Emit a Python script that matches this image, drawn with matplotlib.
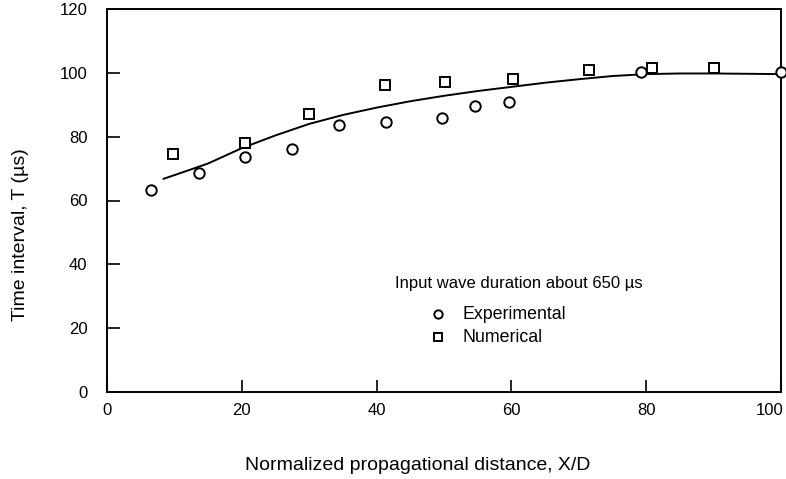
import matplotlib
matplotlib.use("Agg")
import matplotlib.pyplot as plt
from matplotlib.transforms import ScaledTranslation

# Experimental (circles)
exp_x = [6.6, 13.6, 20.5, 27.5, 34.4, 41.4, 49.7, 54.6, 59.6, 79.3, 100.0]
exp_y = [63.3, 68.5, 73.5, 76.2, 83.7, 84.7, 86.0, 89.6, 91.0, 100.2, 100.2]

# Numerical (squares)
num_x = [9.8, 20.5, 30.0, 41.3, 50.2, 60.3, 71.5, 80.8, 90.0]
num_y = [74.5, 78.0, 87.1, 96.2, 97.0, 98.2, 101.0, 101.5, 101.5]

# Fitted curve
fit_x = [8.4, 12, 15, 20, 25, 30, 35, 40, 45, 50, 55, 60, 65, 70, 75, 80, 85, 90, 95, 100]
fit_y = [66.8, 69.4, 71.6, 76.4, 80.4, 84.0, 86.8, 89.1, 91.1, 92.8, 94.3, 95.6, 96.9, 98.0, 99.0, 99.6, 99.8, 99.8, 99.7, 99.6]

x_ticks = [0, 20, 40, 60, 80, 100]
y_ticks = [0, 20, 40, 60, 80, 100, 120]

plt.rcParams['font.family'] = ['Liberation Sans', 'DejaVu Sans']

fig = plt.figure(figsize=(7.86, 4.79), dpi=100)
ax = fig.add_axes([107/786, 1-392/479, (781-107)/786, (392-9)/479])

ax.plot(fit_x, fit_y, color='black', lw=1.4, zorder=2)
ax.plot(exp_x, exp_y, linestyle='none', marker='o', markersize=7.5,
        markerfacecolor='white', markeredgecolor='black', markeredgewidth=1.4, zorder=3, clip_on=False)
ax.plot(num_x, num_y, linestyle='none', marker='s', markersize=7,
        markerfacecolor='white', markeredgecolor='black', markeredgewidth=1.4, zorder=3, clip_on=False)

ax.set_xlim(0, 100)
ax.set_ylim(0, 120)
ax.set_xticks(x_ticks)
ax.set_yticks(y_ticks)
ax.tick_params(direction='in', length=9, width=1.2, labelsize=12, top=False, right=False)
ax.tick_params(axis='y', pad=14)
ax.tick_params(axis='x', pad=8)
for s in ax.spines.values():
    s.set_linewidth(1.4)

# shift the last x tick label left so it stays inside the figure
fig.canvas.draw()
lbls = ax.get_xticklabels()
lbls[-1].set_transform(lbls[-1].get_transform() + ScaledTranslation(-11/100, 0, fig.dpi_scale_trans))

ax.set_xlabel('Normalized propagational distance, X/D', fontsize=14)
ax.set_ylabel('Time interval, T (\u00b5s)', fontsize=14)
ax.xaxis.set_label_coords((418-107)/674, -(457-392)/383)
ax.yaxis.set_label_coords((29-107)/674, (392-235)/383)

# Legend-like annotation
ax.text(42.8, 34, 'Input wave duration about 650 \u00b5s', fontsize=12, va='center', ha='left')
ax.plot([49.1], [24.4], linestyle='none', marker='o', markersize=6,
        markerfacecolor='white', markeredgecolor='black', markeredgewidth=1.4)
ax.text(52.8, 24.4, 'Experimental', fontsize=12.8, va='center', ha='left')
ax.plot([49.1], [17.2], linestyle='none', marker='s', markersize=5.5,
        markerfacecolor='white', markeredgecolor='black', markeredgewidth=1.4)
ax.text(52.8, 17.2, 'Numerical', fontsize=12.8, va='center', ha='left')

fig.savefig('out.png', dpi=100)
